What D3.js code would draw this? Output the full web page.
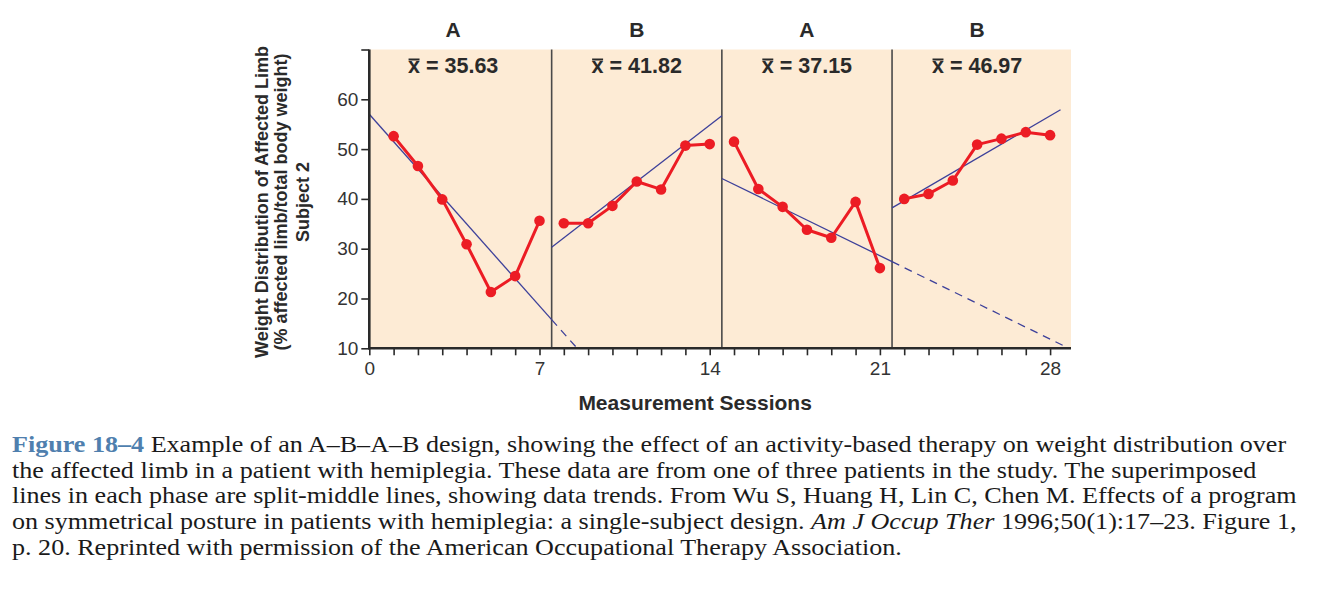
<!DOCTYPE html>
<html>
<head>
<meta charset="utf-8">
<script src="https://cdn.jsdelivr.net/npm/d3@7"></script>
<style>
  body { margin: 0; background: #fff; }
  #chart { position: relative; width: 1320px; height: 604px; overflow: hidden; }
  svg { display: block; }
  .tick text { font-family: "Liberation Sans", Arial, sans-serif; }
  .caption {
    position: absolute;
    left: 12px;
    top: 431.8px;
    font-family: "Liberation Serif", "Times New Roman", Times, serif;
    font-size: 23.2px;
    line-height: 25.8px;
    color: #1a1a1a;
    white-space: nowrap;
    transform: scaleX(1.125);
    transform-origin: 0 0;
  }
  .caption .fig { font-weight: bold; color: #4f7fae; }
</style>
</head>
<body>
<div id="chart"></div>
<script>
// session values per phase
var phaseNames = ["A", "B", "A", "B"];
var phaseMeans = ["35.63", "41.82", "37.15", "46.97"];
var phaseSessions = [
  [1, 2, 3, 4, 5, 6, 7],
  [8, 9, 10, 11, 12, 13, 14],
  [15, 16, 17, 18, 19, 20, 21],
  [22, 23, 24, 25, 26, 27, 28]
];
var phaseA1 = [52.6, 46.6, 39.9, 30.9, 21.3, 24.5, 35.6];
var phaseB1 = [35.1, 35.1, 38.6, 43.5, 41.9, 50.7, 51.0];
var phaseA2 = [51.5, 42.0, 38.4, 33.8, 32.2, 39.4, 26.1];
var phaseB2 = [40.0, 41.0, 43.7, 50.9, 52.1, 53.4, 52.8];
var phaseValues = [phaseA1, phaseB1, phaseA2, phaseB2];

// phase boundaries (session units)
var phaseBreaks = [0, 7.5, 14.5, 21.5, 28.86];
var labelCenters = [3.45, 11, 18, 25];

// split-middle lines: [x0, y0, x1, y1], plus dashed extension (or null)
var trendSolid = [
  [0, 57.0, 7.5, 15.75],
  [7.5, 30.3, 14.5, 56.7],
  [14.5, 44.1, 21.5, 27.4],
  [21.5, 38.2, 28.43, 57.9]
];
var trendDashed = [
  [7.5, 15.75, 8.55, 10],
  null,
  [21.5, 27.4, 28.77, 10],
  null
];

var yTicks = [10, 20, 30, 40, 50, 60, 70];
var yLabels = [10, 20, 30, 40, 50, 60];
var xLabels = [0, 7, 14, 21, 28];

var svgWidth = 1320;
var svgHeight = 604;

var chart = d3.select("#chart");

var svg = chart
  .append("svg")
  .attr("width", svgWidth)
  .attr("height", svgHeight);

var x = d3.scaleLinear().domain([0, 28.86]).range([369.3, 1071]);
var y = d3.scaleLinear().domain([10, 70]).range([348.3, 49.5]);

var sans = "'Liberation Sans', Arial, Helvetica, sans-serif";
var ink = "#2a2a2a";

// shaded plot background
svg.append("rect")
  .attr("x", x(0))
  .attr("y", y(70))
  .attr("width", x(28.86) - x(0))
  .attr("height", y(10) - y(70))
  .attr("fill", "#fdebd5");

// phase dividers
svg.selectAll(".divider")
  .data(phaseBreaks.slice(1, 4))
  .enter()
  .append("line")
  .attr("class", "divider")
  .attr("x1", d => x(d))
  .attr("x2", d => x(d))
  .attr("y1", y(70))
  .attr("y2", y(10))
  .attr("stroke", "#4a4a4a")
  .attr("stroke-width", 1.6);

// trend lines
svg.selectAll(".trend")
  .data(trendSolid)
  .enter()
  .append("line")
  .attr("class", "trend")
  .attr("x1", d => x(d[0]))
  .attr("y1", d => y(d[1]))
  .attr("x2", d => x(d[2]))
  .attr("y2", d => y(d[3]))
  .attr("stroke", "#3d409a")
  .attr("stroke-width", 1.3);

svg.selectAll(".trendDash")
  .data(trendDashed.filter(d => d))
  .enter()
  .append("line")
  .attr("class", "trendDash")
  .attr("x1", d => x(d[0]))
  .attr("y1", d => y(d[1]))
  .attr("x2", d => x(d[2]))
  .attr("y2", d => y(d[3]))
  .attr("stroke", "#3d409a")
  .attr("stroke-width", 1.3)
  .attr("stroke-dasharray", "8,6");

// data lines and points, one group per phase
var line = d3.line()
  .x(d => x(d[0]))
  .y(d => y(d[1]));

phaseValues.forEach(function(vals, i) {
  var pts = vals.map((v, j) => [phaseSessions[i][j], v]);
  svg.append("path")
    .datum(pts)
    .attr("d", line)
    .attr("fill", "none")
    .attr("stroke", "#ec1c24")
    .attr("stroke-width", 3)
    .attr("stroke-linejoin", "round");
  svg.selectAll(".pt" + i)
    .data(pts)
    .enter()
    .append("circle")
    .attr("class", "pt" + i)
    .attr("cx", d => x(d[0]))
    .attr("cy", d => y(d[1]))
    .attr("r", 5.3)
    .attr("fill", "#ec1c24");
});

// axes
var xAxis = svg.append("g")
  .attr("transform", `translate(0, ${y(10)})`)
  .call(d3.axisBottom(x)
    .tickValues(d3.range(0, 29))
    .tickSize(7)
    .tickPadding(6)
    .tickFormat(d => xLabels.indexOf(d) >= 0 ? d : ""));
xAxis.select(".domain").remove();
xAxis.selectAll(".tick line").attr("stroke", ink).attr("stroke-width", 1.6);
xAxis.selectAll(".tick text").attr("font-size", 19).attr("fill", "#333");

var yAxis = svg.append("g")
  .attr("transform", `translate(${x(0)}, 0)`)
  .call(d3.axisLeft(y)
    .tickValues(yTicks)
    .tickSize(8)
    .tickPadding(3)
    .tickFormat(d => yLabels.indexOf(d) >= 0 ? d : ""));
yAxis.select(".domain").remove();
yAxis.selectAll(".tick line").attr("stroke", ink).attr("stroke-width", 1.6);
yAxis.selectAll(".tick text").attr("font-size", 19).attr("fill", "#333");

// axis lines
svg.append("line")
  .attr("x1", x(0)).attr("x2", x(0))
  .attr("y1", y(70)).attr("y2", y(10) + 1)
  .attr("stroke", ink).attr("stroke-width", 2.6);
svg.append("line")
  .attr("x1", x(0) - 1).attr("x2", x(28.86))
  .attr("y1", y(10)).attr("y2", y(10))
  .attr("stroke", ink).attr("stroke-width", 2.6);

// phase labels
svg.selectAll(".phase")
  .data(phaseNames)
  .enter()
  .append("text")
  .attr("class", "phase")
  .attr("x", (d, i) => x(labelCenters[i]))
  .attr("y", 36.7)
  .attr("text-anchor", "middle")
  .attr("font-family", sans)
  .attr("font-weight", "bold")
  .attr("font-size", 21)
  .attr("fill", ink)
  .text(d => d);

// mean labels with overbar on the x
svg.selectAll(".mean")
  .data(phaseMeans)
  .enter()
  .append("text")
  .attr("class", "mean")
  .attr("x", (d, i) => x(labelCenters[i]))
  .attr("y", 72.7)
  .attr("text-anchor", "middle")
  .attr("font-family", sans)
  .attr("font-weight", "bold")
  .attr("font-size", 21.5)
  .attr("fill", ink)
  .text(d => "x = " + d)
  .each(function() {
    var bb = this.getBBox();
    var w = this.getSubStringLength(0, 1);
    svg.append("line")
      .attr("x1", bb.x + 0.5)
      .attr("x2", bb.x + w - 0.5)
      .attr("y1", 59.5)
      .attr("y2", 59.5)
      .attr("stroke", ink)
      .attr("stroke-width", 2);
  });

// axis titles
svg.append("text")
  .attr("x", x(13.4))
  .attr("y", 410)
  .attr("text-anchor", "middle")
  .attr("font-family", sans)
  .attr("font-weight", "bold")
  .attr("font-size", 21)
  .attr("fill", ink)
  .text("Measurement Sessions");

var yTitle = ["Weight Distribution of Affected Limb", "(% affected limb/total body weight)", "Subject 2"];
var yTitleX = [268, 287, 309];
yTitle.forEach(function(t, i) {
  svg.append("text")
    .attr("transform", `translate(${yTitleX[i]}, 202) rotate(-90)`)
    .attr("text-anchor", "middle")
    .attr("font-family", sans)
    .attr("font-weight", "bold")
    .attr("font-size", 18)
    .attr("fill", ink)
    .text(t);
});

// caption, as one html paragraph with fixed line breaks
var captionLines = [
  [["Figure 18\u20134", "fig"], [" Example of an A\u2013B\u2013A\u2013B design, showing the effect of an activity-based therapy on weight distribution over", ""]],
  [["the affected limb in a patient with hemiplegia. These data are from one of three patients in the study. The superimposed", ""]],
  [["lines in each phase are split-middle lines, showing data trends. From Wu S, Huang H, Lin C, Chen M. Effects of a program", ""]],
  [["on symmetrical posture in patients with hemiplegia: a single-subject design. ", ""], ["Am J Occup Ther", "it"], [" 1996;50(1):17\u201323. Figure 1,", ""]],
  [["p. 20. Reprinted with permission of the American Occupational Therapy Association.", ""]]
];

var caption = chart.append("div").attr("class", "caption");
captionLines.forEach(function(parts, i) {
  if (i > 0) caption.append("br");
  parts.forEach(function(p) {
    if (p[1] === "fig") caption.append("span").attr("class", "fig").text(p[0]);
    else if (p[1] === "it") caption.append("i").text(p[0]);
    else caption.append("span").text(p[0]);
  });
});
</script>
</body>
</html>
